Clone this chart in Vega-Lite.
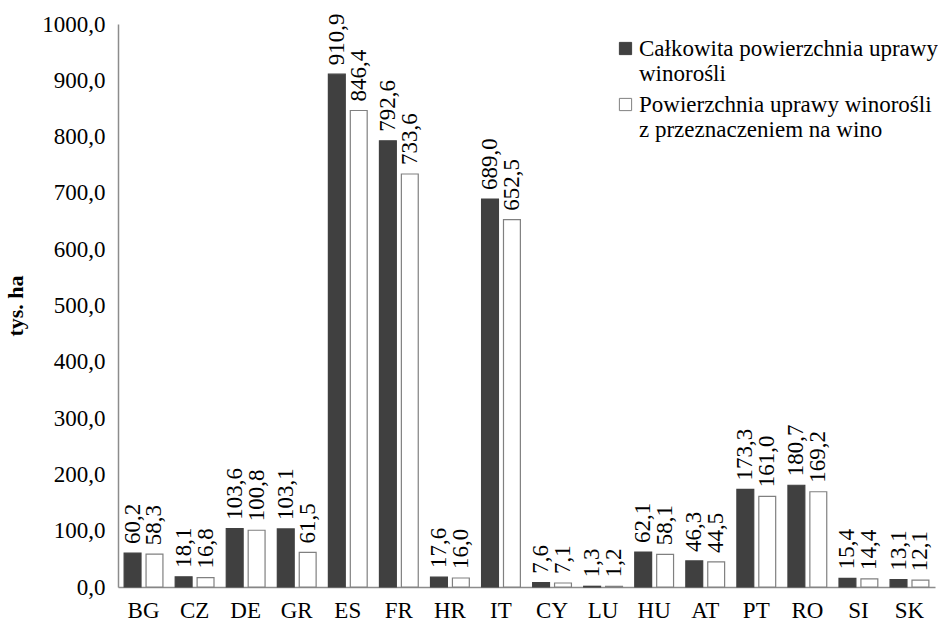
{
  "$schema": "https://vega.github.io/schema/vega-lite/v6.json",
  "width": 817,
  "height": 563,
  "autosize": {"type": "none"},
  "padding": {"left": 118, "top": 24, "right": 3, "bottom": 35},
  "background": "white",
  "config": {
    "locale": {"number": {"decimal": ",", "thousands": "", "grouping": [3], "currency": ["", ""]}},
    "view": {"stroke": null},
    "font": "Liberation Serif",
    "axis": {"labelFont": "Liberation Serif", "labelFontSize": 23, "labelColor": "#000", "domainColor": "#8c8c8c", "domainWidth": 1.5, "ticks": false, "grid": false}
  },
  "data": {
    "values": [
      {"country": "BG", "series": "A", "value": 60.2}, {"country": "BG", "series": "B", "value": 58.3},
      {"country": "CZ", "series": "A", "value": 18.1}, {"country": "CZ", "series": "B", "value": 16.8},
      {"country": "DE", "series": "A", "value": 103.6}, {"country": "DE", "series": "B", "value": 100.8},
      {"country": "GR", "series": "A", "value": 103.1}, {"country": "GR", "series": "B", "value": 61.5},
      {"country": "ES", "series": "A", "value": 910.9}, {"country": "ES", "series": "B", "value": 846.4},
      {"country": "FR", "series": "A", "value": 792.6}, {"country": "FR", "series": "B", "value": 733.6},
      {"country": "HR", "series": "A", "value": 17.6}, {"country": "HR", "series": "B", "value": 16.0},
      {"country": "IT", "series": "A", "value": 689.0}, {"country": "IT", "series": "B", "value": 652.5},
      {"country": "CY", "series": "A", "value": 7.6}, {"country": "CY", "series": "B", "value": 7.1},
      {"country": "LU", "series": "A", "value": 1.3}, {"country": "LU", "series": "B", "value": 1.2},
      {"country": "HU", "series": "A", "value": 62.1}, {"country": "HU", "series": "B", "value": 58.1},
      {"country": "AT", "series": "A", "value": 46.3}, {"country": "AT", "series": "B", "value": 44.5},
      {"country": "PT", "series": "A", "value": 173.3}, {"country": "PT", "series": "B", "value": 161.0},
      {"country": "RO", "series": "A", "value": 180.7}, {"country": "RO", "series": "B", "value": 169.2},
      {"country": "SI", "series": "A", "value": 15.4}, {"country": "SI", "series": "B", "value": 14.4},
      {"country": "SK", "series": "A", "value": 13.1}, {"country": "SK", "series": "B", "value": 12.1}
    ]
  },
  "encoding": {
    "x": {"field": "country", "type": "nominal", "sort": null,
      "scale": {"paddingInner": 0.24, "paddingOuter": 0.12},
      "axis": {"title": null, "labelAngle": 0, "labelPadding": 12}},
    "xOffset": {"field": "series", "type": "nominal", "scale": {"paddingInner": 0.23}},
    "y": {"field": "value", "type": "quantitative",
      "scale": {"domain": [0, 1000], "nice": false},
      "axis": {"title": "tys. ha", "titleFont": "Liberation Serif", "titleFontSize": 22, "titleFontWeight": "bold", "titleColor": "#000", "titlePadding": 14,
        "values": [0, 100, 200, 300, 400, 500, 600, 700, 800, 900, 1000], "format": ".1f", "labelPadding": 13}}
  },
  "layer": [
    {
      "mark": {"type": "bar", "strokeWidth": 1.2},
      "encoding": {
        "color": {"field": "series", "type": "nominal",
          "scale": {"domain": ["A", "B"], "range": ["#404040", "#ffffff"]},
          "legend": {
            "title": null, "orient": "none", "legendX": 496, "legendY": 13,
            "symbolType": "square", "symbolSize": 150, "symbolStrokeColor": "#808080", "symbolStrokeWidth": 1,
            "labelFont": "Liberation Serif", "labelFontSize": 23, "labelColor": "#000", "labelLimit": 400,
            "labelBaseline": "top", "labelOffset": 2, "rowPadding": 7,
            "labelExpr": "datum.value == 'A' ? ['Całkowita powierzchnia uprawy', 'winorośli'] : ['Powierzchnia uprawy winorośli', 'z przeznaczeniem na wino']",
            "encode": {"labels": {"update": {"dy": {"value": -11}, "lineHeight": {"value": 25}}}}
          }},
        "stroke": {"field": "series", "type": "nominal", "scale": {"domain": ["A", "B"], "range": ["#404040", "#808080"]}, "legend": null}
      }
    },
    {
      "mark": {"type": "text", "angle": -90, "align": "left", "baseline": "middle", "dx": 9, "fontSize": 23, "font": "Liberation Serif", "color": "#000"},
      "encoding": {"text": {"field": "value", "type": "quantitative", "format": ".1f"}}
    }
  ]
}
